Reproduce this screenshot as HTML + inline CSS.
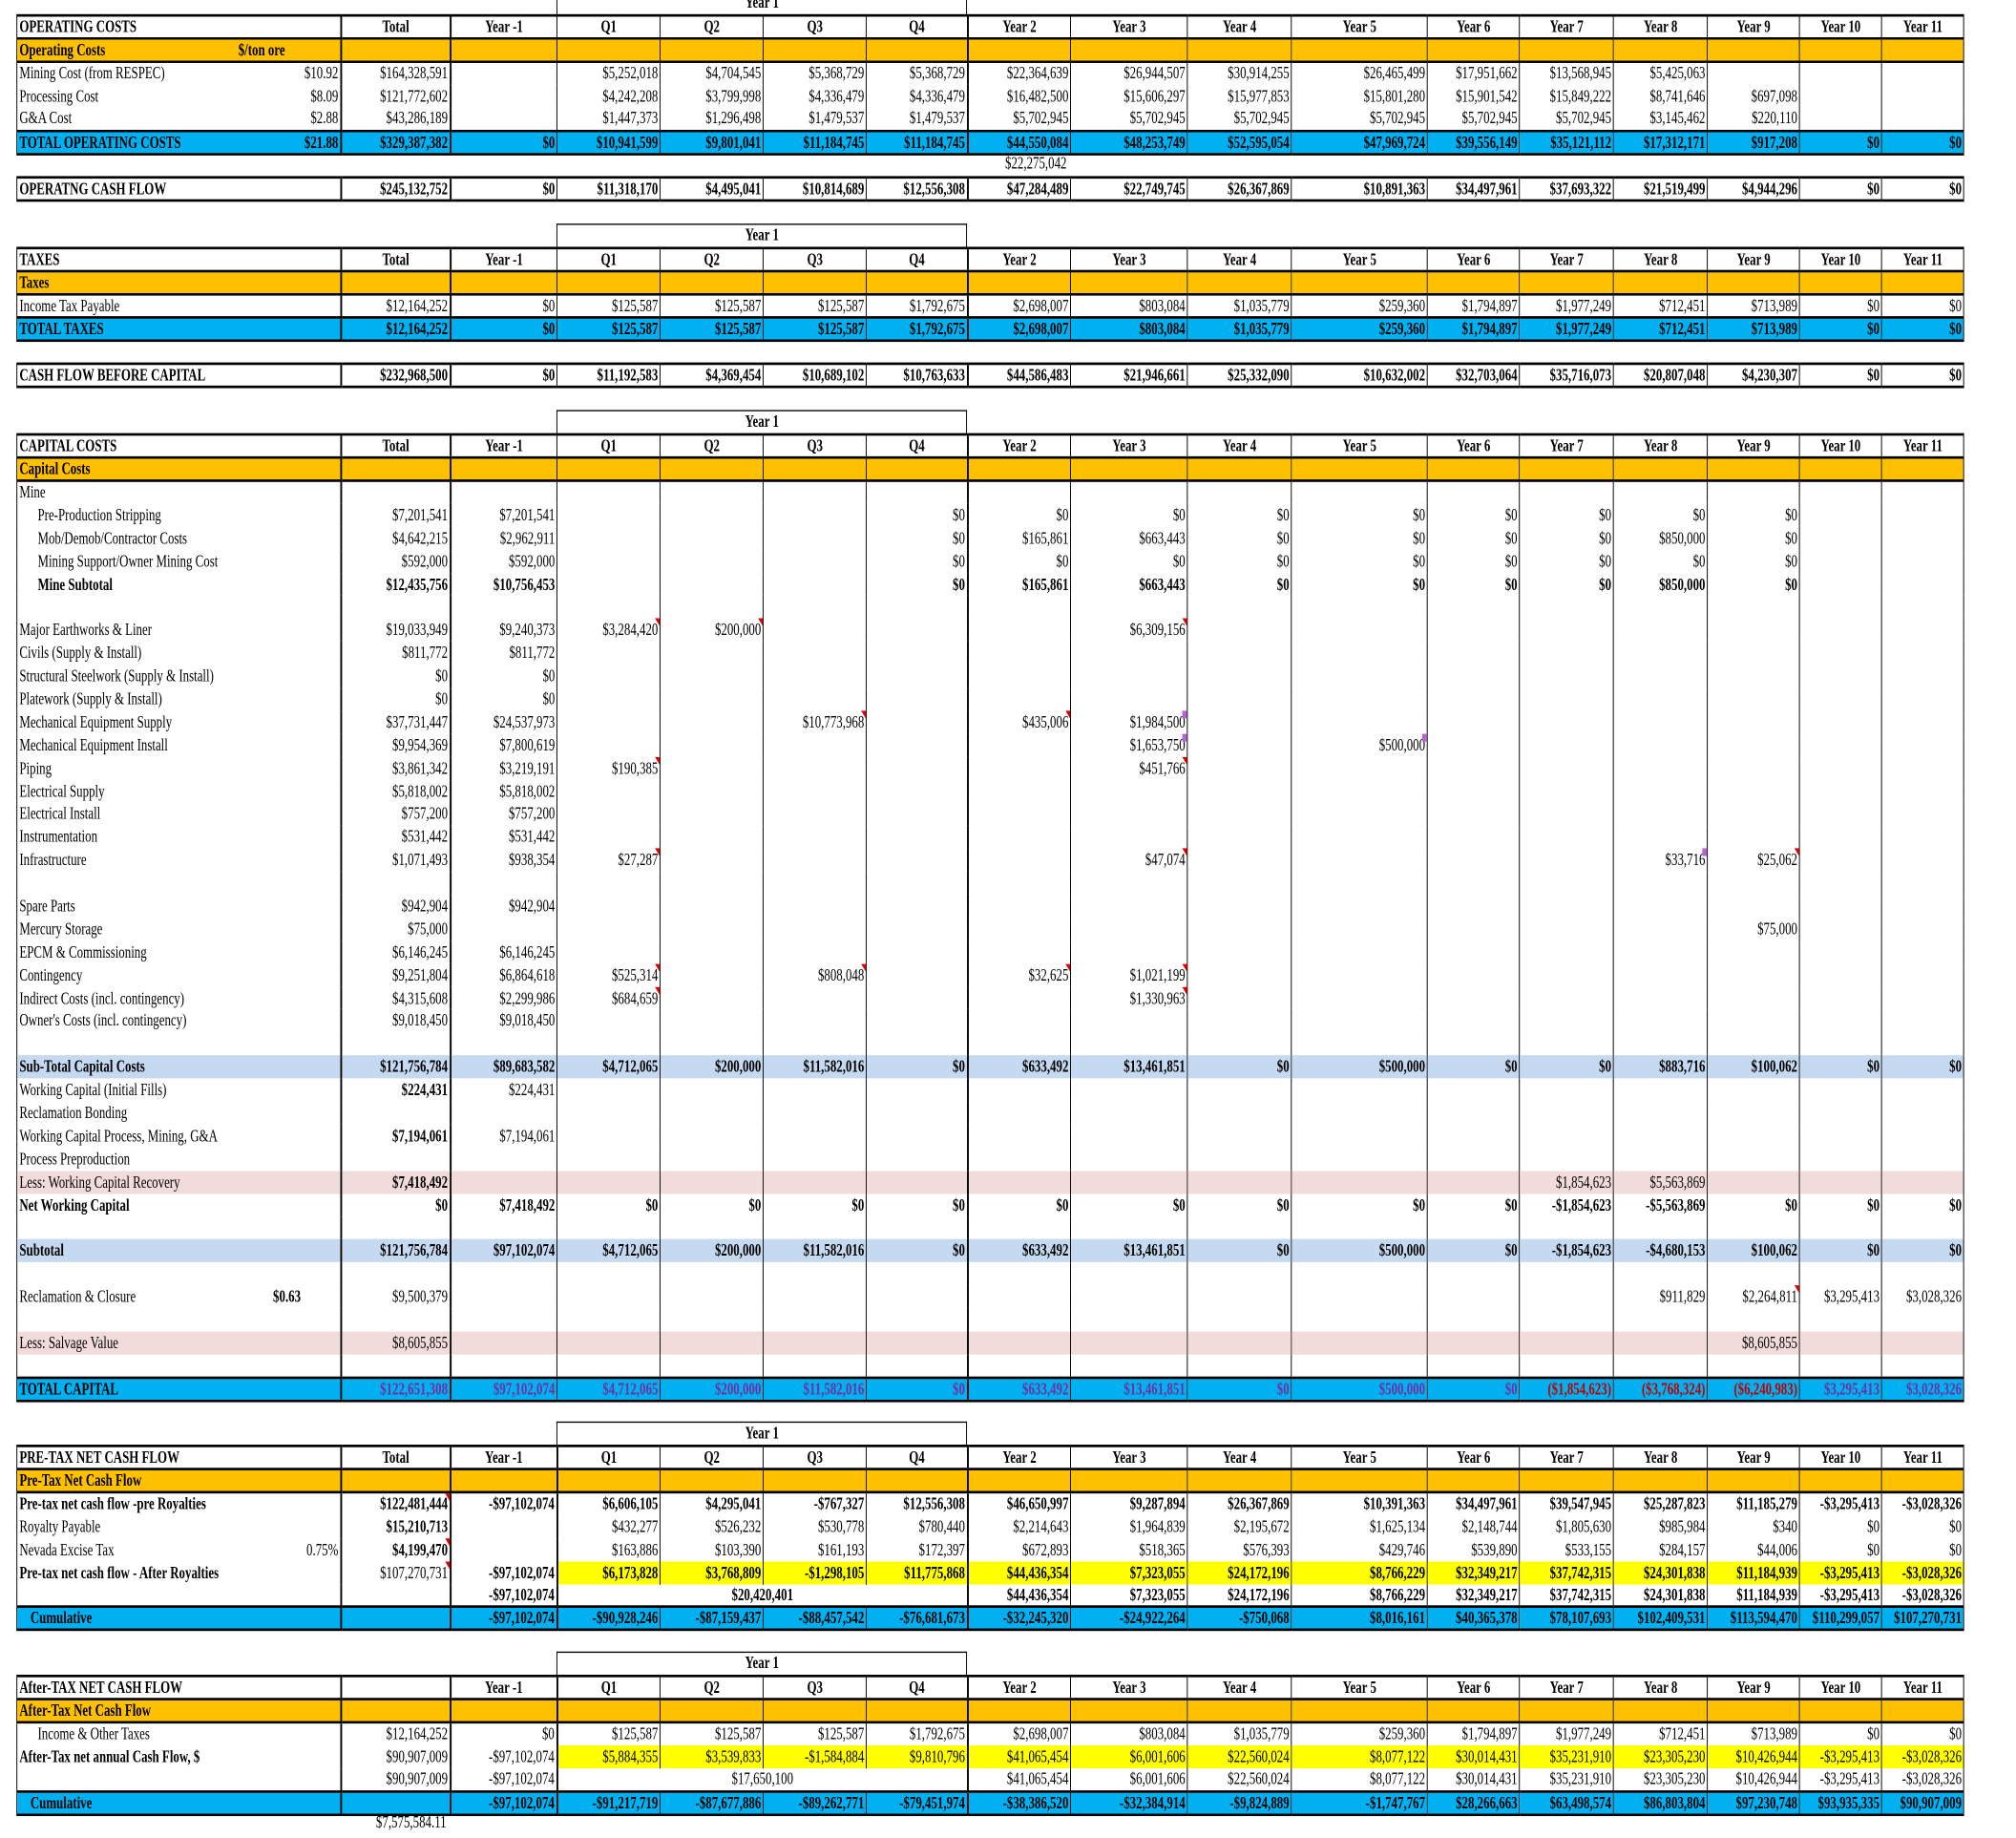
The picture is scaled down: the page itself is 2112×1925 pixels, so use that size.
<!DOCTYPE html>
<html><head><meta charset="utf-8"><style>
html,body{margin:0;padding:0;background:#fff;overflow:hidden}
body{width:2112px;height:1925px;position:relative}
#w{position:absolute;left:0;top:0;width:2210px;height:1430px;transform-origin:0 0;transform:scale(0.9557,1.3461);font-family:"Liberation Serif","Times New Roman",serif;font-size:13.5px;color:#000}
table{position:absolute;left:18.3px;border-collapse:collapse;table-layout:fixed;width:2134px}
td{height:17.9px;line-height:16px;padding:0 2px;border-left:1px solid #000;border-right:1px solid #000;text-align:right;white-space:nowrap;overflow:visible;position:relative;box-sizing:border-box}
td:first-child{text-align:left}
tr.h td{border-top:2px solid #000;border-bottom:2px solid #000;font-weight:bold;text-align:center}
tr.h td:first-child{text-align:left}
tr.o td{background:#FFC000;font-weight:bold;border-bottom:2px solid #000}
tr.b td{background:#00B0F0;font-weight:bold;border-top:2px solid #000;border-bottom:2px solid #000}
tr.lb td{background:#C5D9F1;font-weight:bold}
tr.pk td{background:#F2DCDB}
tr.bd td{font-weight:bold}
tr.box td{border-top:2px solid #000;border-bottom:2px solid #000;font-weight:bold}
td.y{background:#FFFF00}
td.B{font-weight:bold}
td.N{font-weight:normal !important}
td.th{border-left:2px solid #000}
.r{float:right}
.i{padding-left:22px}
.c{padding-left:14px}
td.pu{color:#7030A0;font-weight:normal}
td.rd{color:#C00000}
td.f::after{content:"";position:absolute;right:0;top:0;border-top:6px solid #E00000;border-left:5px solid transparent}
td.p::after{content:"";position:absolute;right:0;top:0;width:5px;height:6px;background:#B266D0}
td.cs{text-align:center}
.yb{position:absolute;left:610.3px;width:450px;height:17.9px;border:1px solid #000;border-bottom:none;box-sizing:border-box;text-align:center;font-weight:bold;line-height:16px}
.ab{position:absolute;text-align:right;line-height:16px}
</style></head><body><div id="w">

<div class="yb" style="top:-7px">Year 1</div>
<table style="top:11px">
<colgroup><col style="width:355px"><col style="width:120px"><col style="width:117px"><col style="width:113px"><col style="width:113px"><col style="width:113px"><col style="width:111px"><col style="width:113px"><col style="width:128px"><col style="width:114px"><col style="width:149px"><col style="width:101px"><col style="width:103px"><col style="width:103px"><col style="width:101px"><col style="width:90px"><col style="width:90px"></colgroup>
<tr class="h"><td>OPERATING COSTS</td><td class="th">Total</td><td class="th">Year -1</td><td>Q1</td><td>Q2</td><td>Q3</td><td>Q4</td><td class="th">Year 2</td><td>Year 3</td><td>Year 4</td><td>Year 5</td><td>Year 6</td><td>Year 7</td><td>Year 8</td><td>Year 9</td><td>Year 10</td><td>Year 11</td></tr>
<tr class="o"><td>Operating Costs<span style="position:absolute;left:242px">$/ton ore</span></td><td class="th"></td><td class="th"></td><td></td><td></td><td></td><td></td><td class="th"></td><td></td><td></td><td></td><td></td><td></td><td></td><td></td><td></td><td></td></tr>
<tr><td>Mining Cost (from RESPEC)<span class="r">$10.92</span></td><td class="th">$164,328,591</td><td class="th"></td><td>$5,252,018</td><td>$4,704,545</td><td>$5,368,729</td><td>$5,368,729</td><td class="th">$22,364,639</td><td>$26,944,507</td><td>$30,914,255</td><td>$26,465,499</td><td>$17,951,662</td><td>$13,568,945</td><td>$5,425,063</td><td></td><td></td><td></td></tr>
<tr><td>Processing Cost<span class="r">$8.09</span></td><td class="th">$121,772,602</td><td class="th"></td><td>$4,242,208</td><td>$3,799,998</td><td>$4,336,479</td><td>$4,336,479</td><td class="th">$16,482,500</td><td>$15,606,297</td><td>$15,977,853</td><td>$15,801,280</td><td>$15,901,542</td><td>$15,849,222</td><td>$8,741,646</td><td>$697,098</td><td></td><td></td></tr>
<tr><td>G&amp;A Cost<span class="r">$2.88</span></td><td class="th">$43,286,189</td><td class="th"></td><td>$1,447,373</td><td>$1,296,498</td><td>$1,479,537</td><td>$1,479,537</td><td class="th">$5,702,945</td><td>$5,702,945</td><td>$5,702,945</td><td>$5,702,945</td><td>$5,702,945</td><td>$5,702,945</td><td>$3,145,462</td><td>$220,110</td><td></td><td></td></tr>
<tr class="b"><td>TOTAL OPERATING COSTS<span class="r">$21.88</span></td><td class="th">$329,387,382</td><td class="th">$0</td><td>$10,941,599</td><td>$9,801,041</td><td>$11,184,745</td><td>$11,184,745</td><td class="th">$44,550,084</td><td>$48,253,749</td><td>$52,595,054</td><td>$47,969,724</td><td>$39,556,149</td><td>$35,121,112</td><td>$17,312,171</td><td>$917,208</td><td>$0</td><td>$0</td></tr>
</table>
<div class="ab" style="left:1060.3px;width:109px;top:119px">$22,275,042</div>
<table style="top:137px">
<colgroup><col style="width:355px"><col style="width:120px"><col style="width:117px"><col style="width:113px"><col style="width:113px"><col style="width:113px"><col style="width:111px"><col style="width:113px"><col style="width:128px"><col style="width:114px"><col style="width:149px"><col style="width:101px"><col style="width:103px"><col style="width:103px"><col style="width:101px"><col style="width:90px"><col style="width:90px"></colgroup>
<tr class="box"><td>OPERATNG CASH FLOW</td><td class="th">$245,132,752</td><td class="th">$0</td><td>$11,318,170</td><td>$4,495,041</td><td>$10,814,689</td><td>$12,556,308</td><td class="th">$47,284,489</td><td>$22,749,745</td><td>$26,367,869</td><td>$10,891,363</td><td>$34,497,961</td><td>$37,693,322</td><td>$21,519,499</td><td>$4,944,296</td><td>$0</td><td>$0</td></tr>
</table>

<div class="yb" style="top:174px">Year 1</div>
<table style="top:192px">
<colgroup><col style="width:355px"><col style="width:120px"><col style="width:117px"><col style="width:113px"><col style="width:113px"><col style="width:113px"><col style="width:111px"><col style="width:113px"><col style="width:128px"><col style="width:114px"><col style="width:149px"><col style="width:101px"><col style="width:103px"><col style="width:103px"><col style="width:101px"><col style="width:90px"><col style="width:90px"></colgroup>
<tr class="h"><td>TAXES</td><td class="th">Total</td><td class="th">Year -1</td><td>Q1</td><td>Q2</td><td>Q3</td><td>Q4</td><td class="th">Year 2</td><td>Year 3</td><td>Year 4</td><td>Year 5</td><td>Year 6</td><td>Year 7</td><td>Year 8</td><td>Year 9</td><td>Year 10</td><td>Year 11</td></tr>
<tr class="o"><td>Taxes</td><td class="th"></td><td class="th"></td><td></td><td></td><td></td><td></td><td class="th"></td><td></td><td></td><td></td><td></td><td></td><td></td><td></td><td></td><td></td></tr>
<tr><td>Income Tax Payable</td><td class="th">$12,164,252</td><td class="th">$0</td><td>$125,587</td><td>$125,587</td><td>$125,587</td><td>$1,792,675</td><td class="th">$2,698,007</td><td>$803,084</td><td>$1,035,779</td><td>$259,360</td><td>$1,794,897</td><td>$1,977,249</td><td>$712,451</td><td>$713,989</td><td>$0</td><td>$0</td></tr>
<tr class="b"><td>TOTAL TAXES</td><td class="th">$12,164,252</td><td class="th">$0</td><td>$125,587</td><td>$125,587</td><td>$125,587</td><td>$1,792,675</td><td class="th">$2,698,007</td><td>$803,084</td><td>$1,035,779</td><td>$259,360</td><td>$1,794,897</td><td>$1,977,249</td><td>$712,451</td><td>$713,989</td><td>$0</td><td>$0</td></tr>
</table>
<table style="top:282px">
<colgroup><col style="width:355px"><col style="width:120px"><col style="width:117px"><col style="width:113px"><col style="width:113px"><col style="width:113px"><col style="width:111px"><col style="width:113px"><col style="width:128px"><col style="width:114px"><col style="width:149px"><col style="width:101px"><col style="width:103px"><col style="width:103px"><col style="width:101px"><col style="width:90px"><col style="width:90px"></colgroup>
<tr class="box"><td>CASH FLOW BEFORE CAPITAL</td><td class="th">$232,968,500</td><td class="th">$0</td><td>$11,192,583</td><td>$4,369,454</td><td>$10,689,102</td><td>$10,763,633</td><td class="th">$44,586,483</td><td>$21,946,661</td><td>$25,332,090</td><td>$10,632,002</td><td>$32,703,064</td><td>$35,716,073</td><td>$20,807,048</td><td>$4,230,307</td><td>$0</td><td>$0</td></tr>
</table>

<div class="yb" style="top:319px">Year 1</div>
<table style="top:337px">
<colgroup><col style="width:355px"><col style="width:120px"><col style="width:117px"><col style="width:113px"><col style="width:113px"><col style="width:113px"><col style="width:111px"><col style="width:113px"><col style="width:128px"><col style="width:114px"><col style="width:149px"><col style="width:101px"><col style="width:103px"><col style="width:103px"><col style="width:101px"><col style="width:90px"><col style="width:90px"></colgroup>
<tr class="h"><td>CAPITAL COSTS</td><td class="th">Total</td><td class="th">Year -1</td><td>Q1</td><td>Q2</td><td>Q3</td><td>Q4</td><td class="th">Year 2</td><td>Year 3</td><td>Year 4</td><td>Year 5</td><td>Year 6</td><td>Year 7</td><td>Year 8</td><td>Year 9</td><td>Year 10</td><td>Year 11</td></tr>
<tr class="o"><td>Capital Costs</td><td class="th"></td><td class="th"></td><td></td><td></td><td></td><td></td><td class="th"></td><td></td><td></td><td></td><td></td><td></td><td></td><td></td><td></td><td></td></tr>
<tr><td>Mine</td><td class="th"></td><td class="th"></td><td></td><td></td><td></td><td></td><td class="th"></td><td></td><td></td><td></td><td></td><td></td><td></td><td></td><td></td><td></td></tr>
<tr><td class="i">Pre-Production Stripping</td><td class="th">$7,201,541</td><td class="th">$7,201,541</td><td></td><td></td><td></td><td>$0</td><td class="th">$0</td><td>$0</td><td>$0</td><td>$0</td><td>$0</td><td>$0</td><td>$0</td><td>$0</td><td></td><td></td></tr>
<tr><td class="i">Mob/Demob/Contractor Costs</td><td class="th">$4,642,215</td><td class="th">$2,962,911</td><td></td><td></td><td></td><td>$0</td><td class="th">$165,861</td><td>$663,443</td><td>$0</td><td>$0</td><td>$0</td><td>$0</td><td>$850,000</td><td>$0</td><td></td><td></td></tr>
<tr><td class="i">Mining Support/Owner Mining Cost</td><td class="th">$592,000</td><td class="th">$592,000</td><td></td><td></td><td></td><td>$0</td><td class="th">$0</td><td>$0</td><td>$0</td><td>$0</td><td>$0</td><td>$0</td><td>$0</td><td>$0</td><td></td><td></td></tr>
<tr class="bd"><td class="i">Mine Subtotal</td><td class="th">$12,435,756</td><td class="th">$10,756,453</td><td></td><td></td><td></td><td>$0</td><td class="th">$165,861</td><td>$663,443</td><td>$0</td><td>$0</td><td>$0</td><td>$0</td><td>$850,000</td><td>$0</td><td></td><td></td></tr>
<tr><td></td><td class="th"></td><td class="th"></td><td></td><td></td><td></td><td></td><td class="th"></td><td></td><td></td><td></td><td></td><td></td><td></td><td></td><td></td><td></td></tr>
<tr><td>Major Earthworks &amp; Liner</td><td class="th">$19,033,949</td><td class="th">$9,240,373</td><td class="f">$3,284,420</td><td class="f">$200,000</td><td></td><td></td><td class="th"></td><td class="f">$6,309,156</td><td></td><td></td><td></td><td></td><td></td><td></td><td></td><td></td></tr>
<tr><td>Civils (Supply &amp; Install)</td><td class="th">$811,772</td><td class="th">$811,772</td><td></td><td></td><td></td><td></td><td class="th"></td><td></td><td></td><td></td><td></td><td></td><td></td><td></td><td></td><td></td></tr>
<tr><td>Structural Steelwork (Supply &amp; Install)</td><td class="th">$0</td><td class="th">$0</td><td></td><td></td><td></td><td></td><td class="th"></td><td></td><td></td><td></td><td></td><td></td><td></td><td></td><td></td><td></td></tr>
<tr><td>Platework (Supply &amp; Install)</td><td class="th">$0</td><td class="th">$0</td><td></td><td></td><td></td><td></td><td class="th"></td><td></td><td></td><td></td><td></td><td></td><td></td><td></td><td></td><td></td></tr>
<tr><td>Mechanical Equipment Supply</td><td class="th">$37,731,447</td><td class="th">$24,537,973</td><td></td><td></td><td class="f">$10,773,968</td><td></td><td class="th f">$435,006</td><td class="p">$1,984,500</td><td></td><td></td><td></td><td></td><td></td><td></td><td></td><td></td></tr>
<tr><td>Mechanical Equipment Install</td><td class="th">$9,954,369</td><td class="th">$7,800,619</td><td></td><td></td><td></td><td></td><td class="th"></td><td class="p">$1,653,750</td><td></td><td class="p">$500,000</td><td></td><td></td><td></td><td></td><td></td><td></td></tr>
<tr><td>Piping</td><td class="th">$3,861,342</td><td class="th">$3,219,191</td><td class="f">$190,385</td><td></td><td></td><td></td><td class="th"></td><td class="f">$451,766</td><td></td><td></td><td></td><td></td><td></td><td></td><td></td><td></td></tr>
<tr><td>Electrical Supply</td><td class="th">$5,818,002</td><td class="th">$5,818,002</td><td></td><td></td><td></td><td></td><td class="th"></td><td></td><td></td><td></td><td></td><td></td><td></td><td></td><td></td><td></td></tr>
<tr><td>Electrical Install</td><td class="th">$757,200</td><td class="th">$757,200</td><td></td><td></td><td></td><td></td><td class="th"></td><td></td><td></td><td></td><td></td><td></td><td></td><td></td><td></td><td></td></tr>
<tr><td>Instrumentation</td><td class="th">$531,442</td><td class="th">$531,442</td><td></td><td></td><td></td><td></td><td class="th"></td><td></td><td></td><td></td><td></td><td></td><td></td><td></td><td></td><td></td></tr>
<tr><td>Infrastructure</td><td class="th">$1,071,493</td><td class="th">$938,354</td><td class="f">$27,287</td><td></td><td></td><td></td><td class="th"></td><td class="f">$47,074</td><td></td><td></td><td></td><td></td><td class="p">$33,716</td><td class="f">$25,062</td><td></td><td></td></tr>
<tr><td></td><td class="th"></td><td class="th"></td><td></td><td></td><td></td><td></td><td class="th"></td><td></td><td></td><td></td><td></td><td></td><td></td><td></td><td></td><td></td></tr>
<tr><td>Spare Parts</td><td class="th">$942,904</td><td class="th">$942,904</td><td></td><td></td><td></td><td></td><td class="th"></td><td></td><td></td><td></td><td></td><td></td><td></td><td></td><td></td><td></td></tr>
<tr><td>Mercury Storage</td><td class="th">$75,000</td><td class="th"></td><td></td><td></td><td></td><td></td><td class="th"></td><td></td><td></td><td></td><td></td><td></td><td></td><td>$75,000</td><td></td><td></td></tr>
<tr><td>EPCM &amp; Commissioning</td><td class="th">$6,146,245</td><td class="th">$6,146,245</td><td></td><td></td><td></td><td></td><td class="th"></td><td></td><td></td><td></td><td></td><td></td><td></td><td></td><td></td><td></td></tr>
<tr><td>Contingency</td><td class="th">$9,251,804</td><td class="th">$6,864,618</td><td class="f">$525,314</td><td></td><td class="f">$808,048</td><td></td><td class="th f">$32,625</td><td class="f">$1,021,199</td><td></td><td></td><td></td><td></td><td></td><td></td><td></td><td></td></tr>
<tr><td>Indirect Costs (incl. contingency)</td><td class="th">$4,315,608</td><td class="th">$2,299,986</td><td class="f">$684,659</td><td></td><td></td><td></td><td class="th"></td><td class="f">$1,330,963</td><td></td><td></td><td></td><td></td><td></td><td></td><td></td><td></td></tr>
<tr><td>Owner's Costs (incl. contingency)</td><td class="th">$9,018,450</td><td class="th">$9,018,450</td><td></td><td></td><td></td><td></td><td class="th"></td><td></td><td></td><td></td><td></td><td></td><td></td><td></td><td></td><td></td></tr>
<tr><td></td><td class="th"></td><td class="th"></td><td></td><td></td><td></td><td></td><td class="th"></td><td></td><td></td><td></td><td></td><td></td><td></td><td></td><td></td><td></td></tr>
<tr class="lb"><td>Sub-Total Capital Costs</td><td class="th">$121,756,784</td><td class="th">$89,683,582</td><td>$4,712,065</td><td>$200,000</td><td>$11,582,016</td><td>$0</td><td class="th">$633,492</td><td>$13,461,851</td><td>$0</td><td>$500,000</td><td>$0</td><td>$0</td><td>$883,716</td><td>$100,062</td><td>$0</td><td>$0</td></tr>
<tr><td>Working Capital (Initial Fills)</td><td class="th B">$224,431</td><td class="th">$224,431</td><td></td><td></td><td></td><td></td><td class="th"></td><td></td><td></td><td></td><td></td><td></td><td></td><td></td><td></td><td></td></tr>
<tr><td>Reclamation Bonding</td><td class="th"></td><td class="th"></td><td></td><td></td><td></td><td></td><td class="th"></td><td></td><td></td><td></td><td></td><td></td><td></td><td></td><td></td><td></td></tr>
<tr><td>Working Capital Process, Mining, G&amp;A</td><td class="th B">$7,194,061</td><td class="th">$7,194,061</td><td></td><td></td><td></td><td></td><td class="th"></td><td></td><td></td><td></td><td></td><td></td><td></td><td></td><td></td><td></td></tr>
<tr><td>Process Preproduction</td><td class="th"></td><td class="th"></td><td></td><td></td><td></td><td></td><td class="th"></td><td></td><td></td><td></td><td></td><td></td><td></td><td></td><td></td><td></td></tr>
<tr class="pk"><td>Less: Working Capital Recovery</td><td class="th B">$7,418,492</td><td class="th"></td><td></td><td></td><td></td><td></td><td class="th"></td><td></td><td></td><td></td><td></td><td>$1,854,623</td><td>$5,563,869</td><td></td><td></td><td></td></tr>
<tr class="bd"><td>Net Working Capital</td><td class="th">$0</td><td class="th">$7,418,492</td><td>$0</td><td>$0</td><td>$0</td><td>$0</td><td class="th">$0</td><td>$0</td><td>$0</td><td>$0</td><td>$0</td><td>-$1,854,623</td><td>-$5,563,869</td><td>$0</td><td>$0</td><td>$0</td></tr>
<tr><td></td><td class="th"></td><td class="th"></td><td></td><td></td><td></td><td></td><td class="th"></td><td></td><td></td><td></td><td></td><td></td><td></td><td></td><td></td><td></td></tr>
<tr class="lb"><td>Subtotal</td><td class="th">$121,756,784</td><td class="th">$97,102,074</td><td>$4,712,065</td><td>$200,000</td><td>$11,582,016</td><td>$0</td><td class="th">$633,492</td><td>$13,461,851</td><td>$0</td><td>$500,000</td><td>$0</td><td>-$1,854,623</td><td>-$4,680,153</td><td>$100,062</td><td>$0</td><td>$0</td></tr>
<tr><td></td><td class="th"></td><td class="th"></td><td></td><td></td><td></td><td></td><td class="th"></td><td></td><td></td><td></td><td></td><td></td><td></td><td></td><td></td><td></td></tr>
<tr><td>Reclamation &amp; Closure<b style="position:absolute;left:280px">$0.63</b></td><td class="th">$9,500,379</td><td class="th"></td><td></td><td></td><td></td><td></td><td class="th"></td><td></td><td></td><td></td><td></td><td></td><td>$911,829</td><td class="f">$2,264,811</td><td>$3,295,413</td><td>$3,028,326</td></tr>
<tr><td></td><td class="th"></td><td class="th"></td><td></td><td></td><td></td><td></td><td class="th"></td><td></td><td></td><td></td><td></td><td></td><td></td><td></td><td></td><td></td></tr>
<tr class="pk"><td>Less: Salvage Value</td><td class="th">$8,605,855</td><td class="th"></td><td></td><td></td><td></td><td></td><td class="th"></td><td></td><td></td><td></td><td></td><td></td><td></td><td>$8,605,855</td><td></td><td></td></tr>
<tr><td></td><td class="th"></td><td class="th"></td><td></td><td></td><td></td><td></td><td class="th"></td><td></td><td></td><td></td><td></td><td></td><td></td><td></td><td></td><td></td></tr>
<tr class="b"><td>TOTAL CAPITAL</td><td class="th pu">$122,651,308</td><td class="th pu">$97,102,074</td><td class="pu">$4,712,065</td><td class="pu">$200,000</td><td class="pu">$11,582,016</td><td class="pu">$0</td><td class="th pu">$633,492</td><td class="pu">$13,461,851</td><td class="pu">$0</td><td class="pu">$500,000</td><td class="pu">$0</td><td class="rd">($1,854,623)</td><td class="rd">($3,768,324)</td><td class="rd">($6,240,983)</td><td class="pu">$3,295,413</td><td class="pu">$3,028,326</td></tr>
</table>

<div class="yb" style="top:1106px">Year 1</div>
<table style="top:1124px">
<colgroup><col style="width:355px"><col style="width:120px"><col style="width:117px"><col style="width:113px"><col style="width:113px"><col style="width:113px"><col style="width:111px"><col style="width:113px"><col style="width:128px"><col style="width:114px"><col style="width:149px"><col style="width:101px"><col style="width:103px"><col style="width:103px"><col style="width:101px"><col style="width:90px"><col style="width:90px"></colgroup>
<tr class="h"><td>PRE-TAX NET CASH FLOW</td><td class="th">Total</td><td class="th">Year -1</td><td class="th">Q1</td><td>Q2</td><td>Q3</td><td>Q4</td><td class="th">Year 2</td><td>Year 3</td><td>Year 4</td><td>Year 5</td><td>Year 6</td><td>Year 7</td><td>Year 8</td><td>Year 9</td><td>Year 10</td><td>Year 11</td></tr>
<tr class="o"><td>Pre-Tax Net Cash Flow</td><td class="th"></td><td class="th"></td><td class="th"></td><td></td><td></td><td></td><td class="th"></td><td></td><td></td><td></td><td></td><td></td><td></td><td></td><td></td><td></td></tr>
<tr class="bd"><td>Pre-tax net cash flow -pre Royalties</td><td class="th f">$122,481,444</td><td class="th">-$97,102,074</td><td class="th">$6,606,105</td><td>$4,295,041</td><td>-$767,327</td><td>$12,556,308</td><td class="th">$46,650,997</td><td>$9,287,894</td><td>$26,367,869</td><td>$10,391,363</td><td>$34,497,961</td><td>$39,547,945</td><td>$25,287,823</td><td>$11,185,279</td><td>-$3,295,413</td><td>-$3,028,326</td></tr>
<tr><td>Royalty Payable</td><td class="th B">$15,210,713</td><td class="th"></td><td class="th">$432,277</td><td>$526,232</td><td>$530,778</td><td>$780,440</td><td class="th">$2,214,643</td><td>$1,964,839</td><td>$2,195,672</td><td>$1,625,134</td><td>$2,148,744</td><td>$1,805,630</td><td>$985,984</td><td>$340</td><td>$0</td><td>$0</td></tr>
<tr><td>Nevada Excise Tax<span class="r">0.75%</span></td><td class="th B f">$4,199,470</td><td class="th"></td><td class="th">$163,886</td><td>$103,390</td><td>$161,193</td><td>$172,397</td><td class="th">$672,893</td><td>$518,365</td><td>$576,393</td><td>$429,746</td><td>$539,890</td><td>$533,155</td><td>$284,157</td><td>$44,006</td><td>$0</td><td>$0</td></tr>
<tr class="bd"><td>Pre-tax net cash flow - After Royalties</td><td class="th f N">$107,270,731</td><td class="th">-$97,102,074</td><td class="th y">$6,173,828</td><td class="y">$3,768,809</td><td class="y">-$1,298,105</td><td class="y">$11,775,868</td><td class="th y">$44,436,354</td><td class="y">$7,323,055</td><td class="y">$24,172,196</td><td class="y">$8,766,229</td><td class="y">$32,349,217</td><td class="y">$37,742,315</td><td class="y">$24,301,838</td><td class="y">$11,184,939</td><td class="y">-$3,295,413</td><td class="y">-$3,028,326</td></tr>
<tr class="bd"><td></td><td class="th"></td><td class="th">-$97,102,074</td><td colspan="4" class="cs th">$20,420,401</td><td class="th">$44,436,354</td><td>$7,323,055</td><td>$24,172,196</td><td>$8,766,229</td><td>$32,349,217</td><td>$37,742,315</td><td>$24,301,838</td><td>$11,184,939</td><td>-$3,295,413</td><td>-$3,028,326</td></tr>
<tr class="b"><td class="c">Cumulative</td><td class="th"></td><td class="th">-$97,102,074</td><td class="th">-$90,928,246</td><td>-$87,159,437</td><td>-$88,457,542</td><td>-$76,681,673</td><td class="th">-$32,245,320</td><td>-$24,922,264</td><td>-$750,068</td><td>$8,016,161</td><td>$40,365,378</td><td>$78,107,693</td><td>$102,409,531</td><td>$113,594,470</td><td>$110,299,057</td><td>$107,270,731</td></tr>
</table>

<div class="yb" style="top:1285px">Year 1</div>
<table style="top:1303px">
<colgroup><col style="width:355px"><col style="width:120px"><col style="width:117px"><col style="width:113px"><col style="width:113px"><col style="width:113px"><col style="width:111px"><col style="width:113px"><col style="width:128px"><col style="width:114px"><col style="width:149px"><col style="width:101px"><col style="width:103px"><col style="width:103px"><col style="width:101px"><col style="width:90px"><col style="width:90px"></colgroup>
<tr class="h"><td>After-TAX NET CASH FLOW</td><td class="th"></td><td class="th">Year -1</td><td class="th">Q1</td><td>Q2</td><td>Q3</td><td>Q4</td><td class="th">Year 2</td><td>Year 3</td><td>Year 4</td><td>Year 5</td><td>Year 6</td><td>Year 7</td><td>Year 8</td><td>Year 9</td><td>Year 10</td><td>Year 11</td></tr>
<tr class="o"><td>After-Tax Net Cash Flow</td><td class="th"></td><td class="th"></td><td class="th"></td><td></td><td></td><td></td><td class="th"></td><td></td><td></td><td></td><td></td><td></td><td></td><td></td><td></td><td></td></tr>
<tr><td class="i">Income &amp; Other Taxes</td><td class="th">$12,164,252</td><td class="th">$0</td><td class="th">$125,587</td><td>$125,587</td><td>$125,587</td><td>$1,792,675</td><td class="th">$2,698,007</td><td>$803,084</td><td>$1,035,779</td><td>$259,360</td><td>$1,794,897</td><td>$1,977,249</td><td>$712,451</td><td>$713,989</td><td>$0</td><td>$0</td></tr>
<tr><td class="B">After-Tax net annual Cash Flow, $</td><td class="th">$90,907,009</td><td class="th">-$97,102,074</td><td class="th y">$5,884,355</td><td class="y">$3,539,833</td><td class="y">-$1,584,884</td><td class="y">$9,810,796</td><td class="th y">$41,065,454</td><td class="y">$6,001,606</td><td class="y">$22,560,024</td><td class="y">$8,077,122</td><td class="y">$30,014,431</td><td class="y">$35,231,910</td><td class="y">$23,305,230</td><td class="y">$10,426,944</td><td class="y">-$3,295,413</td><td class="y">-$3,028,326</td></tr>
<tr><td></td><td class="th">$90,907,009</td><td class="th">-$97,102,074</td><td colspan="4" class="cs th">$17,650,100</td><td class="th">$41,065,454</td><td>$6,001,606</td><td>$22,560,024</td><td>$8,077,122</td><td>$30,014,431</td><td>$35,231,910</td><td>$23,305,230</td><td>$10,426,944</td><td>-$3,295,413</td><td>-$3,028,326</td></tr>
<tr class="b"><td class="c">Cumulative</td><td class="th"></td><td class="th">-$97,102,074</td><td class="th">-$91,217,719</td><td>-$87,677,886</td><td>-$89,262,771</td><td>-$79,451,974</td><td class="th">-$38,386,520</td><td>-$32,384,914</td><td>-$9,824,889</td><td>-$1,747,767</td><td>$28,266,663</td><td>$63,498,574</td><td>$86,803,804</td><td>$97,230,748</td><td>$93,935,335</td><td>$90,907,009</td></tr>
</table>
<div class="ab" style="left:373.3px;width:116px;top:1410px">$7,575,584.11</div>
</div></body></html>
